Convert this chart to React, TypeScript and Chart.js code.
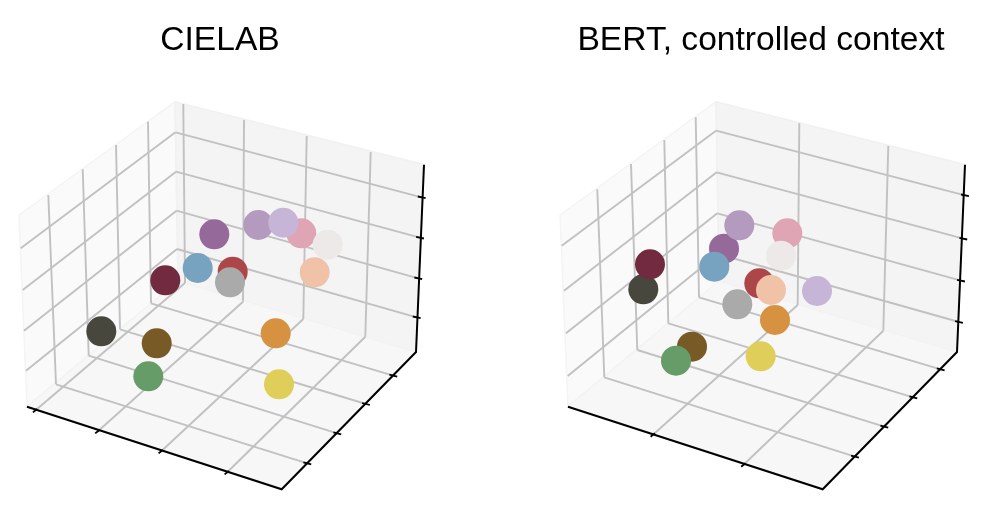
import React, { useEffect, useRef } from "react";
import { Chart, registerables } from "chart.js";

Chart.register(...registerables);

type P = [number, number];
type Seg = [P, P];

const titles = ["CIELAB", "BERT, controlled context"];

const colourNames = ["charcoal", "maroon", "brown", "green", "yellow", "orange", "red", "grey", "peach", "purple", "blue", "mauve", "pink", "lavender", "ivory"];
const colours = ["#47473d", "#722a41", "#775a26", "#669c67", "#dfcf5a", "#d69141", "#ad4649", "#a9aaa9", "#f0c3a8", "#96699b", "#77a3c0", "#b59ac0", "#dfa5b5", "#c6b5d6", "#ece9e8"];

const cielabX = [101.3, 165.3, 156.7, 148.3, 279, 275.7, 232.7, 230, 314.7, 214.3, 197.7, 258.3, 301.3, 283.3, 327.7];
const cielabY = [331.3, 280.3, 343.3, 376.3, 384.3, 333.3, 271.7, 282.3, 272.3, 234.3, 268, 225, 233.3, 222.7, 244.7];
const bertX = [643.3, 650, 692, 676, 760.7, 775, 759.3, 737.3, 771, 724, 714.3, 739.3, 787.3, 817, 781];
const bertY = [289.3, 264.3, 346.7, 360.7, 356.3, 320, 283.3, 304.3, 290, 248.7, 266.7, 225.3, 233.3, 291, 255.7];

// Box corners (left panel); the right panel repeats them one panel step along.
const panelStep = 541;
const leftWall: P[] = [[19, 215], [175, 101.7], [178, 281], [27, 406.7], [19, 215]];
const rightWall: P[] = [[175, 101.7], [424, 164.7], [416, 352], [178, 281], [175, 101.7]];
const floorPane: P[] = [[27, 406.7], [178, 281], [416, 352], [281.7, 489.3], [27, 406.7]];
const spines: P[][] = [[[27, 406.7], [281.7, 489.3], [416, 352], [424, 164.7]]];

// Grid lines, left panel
const cielabLeftTop: P[] = [[48.3, 195], [82.7, 169.3], [116, 145], [148, 121.7]];
const cielabLeftBottom: P[] = [[56, 384.3], [88.7, 355.7], [120, 329.3], [151, 303.3]];
const cielabRightTop: P[] = [[183.3, 104], [244, 120], [306.7, 136], [370.7, 152]];
const cielabRightBottom: P[] = [[185, 283], [243, 301.7], [303.3, 319], [365.3, 336.7]];
const cielabFrontTicks: P[] = [[35, 410.7], [97.3, 431.7], [160.7, 451.7], [226.7, 472.7]];
const cielabSideTicks: P[] = [[307.3, 463.3], [337.3, 433.3], [366, 404], [393.3, 375.7]];
const cielabBackLevels: P[] = [[175.5, 132.3], [176, 171.7], [176.5, 210.7], [177, 249]];
const cielabLeftLevels: P[] = [[20.7, 248.3], [22.7, 290], [24, 330.7], [26, 370.7]];
const cielabRightLevels: P[] = [[421.7, 197.3], [420, 237.7], [418.3, 278.3], [416.7, 317.3]];

// Grid lines, right panel
const bertLeftTop: P[] = [[597.3, 189.3], [631, 164], [664.3, 140], [695.7, 117.3]];
const bertLeftBottom: P[] = [[604.3, 377.3], [637.3, 350], [668.3, 323.3], [699, 297.3]];
const bertRightTop: P[] = [[799.3, 123.3], [888.3, 146]];
const bertRightBottom: P[] = [[797.7, 305], [883.3, 330.7]];
const bertFrontTicks: P[] = [[652.7, 435], [743.3, 465]];
const bertSideTicks: P[] = [[855, 456.7], [884.3, 426.7], [913.3, 397.3], [940.7, 369.3]];
const bertBackLevels: P[] = [[716, 130.7], [716.7, 172.3], [717.3, 213.3], [718, 254]];
const bertLeftLevels: P[] = [[561.7, 245.7], [564, 290.7], [566, 333.3], [567.7, 376]];
const bertRightLevels: P[] = [[965, 195.3], [963.3, 238.7], [961, 280.7], [959, 322]];

const zip = (a: P[], b: P[]): Seg[] => a.map((p, i) => [p, b[i]]);

function tickMarks(at: P[], dx: number, dy: number): Seg[] {
  return at.map(([x, y]) => [[x - dx, y - dy], [x + dx, y + dy]]);
}

function panel(
  xs: number[], ys: number[], shift: number,
  g: { lt: P[]; lb: P[]; rt: P[]; rb: P[]; ft: P[]; st: P[]; bl: P[]; ll: P[]; rl: P[] }
) {
  const sh = (pts: P[]): P[] => pts.map(([x, y]) => [x + shift, y]);
  const xy = (pts: P[]) => pts.map(([x, y]) => ({ x, y }));
  const grid: Seg[] = [
    ...zip(g.lt, g.lb), ...zip(g.rt, g.rb),
    ...zip(g.rb, g.ft), ...zip(g.lb, g.st),
    ...zip(g.bl, g.ll), ...zip(g.bl, g.rl),
  ];
  const ticks: Seg[] = [
    ...tickMarks(g.ft, 2.1, -1.7),
    ...tickMarks(g.st, 3.9, 1),
    ...tickMarks(g.rl, 3.9, 0.8),
  ];
  const line = (pts: P[], color: string, width: number) => ({
    data: xy(pts), showLine: true, pointRadius: 0, borderColor: color, borderWidth: width, clip: false, tension: 0,
  });
  const pane = (pts: P[], fillColor: string, edge: string) => ({
    ...line(sh(pts), edge, 1.5), fill: "shape", backgroundColor: fillColor,
  });
  return [
    {
      label: "colours",
      data: xs.map((x, i) => ({ x, y: ys[i] })),
      pointRadius: 15, pointHoverRadius: 15, pointBorderWidth: 0,
      pointBackgroundColor: colours, clip: false,
    },
    ...spines.map((s) => line(sh(s), "#000000", 2)),
    ...ticks.map((s) => line(s, "#000000", 1.8)),
    ...grid.map((s) => line(s, "#c1c1c1", 1.9)),
    pane(floorPane, "#f7f7f7", "#f3f3f3"),
    pane(rightWall, "#f4f4f4", "#f1f1f1"),
    pane(leftWall, "#fafafa", "#f4f4f4"),
  ];
}

const TITLE_SIZE = 33.6;
const TITLE_PAD_TOP = 21;
const TITLE_BLOCK = TITLE_SIZE * 1.2 + TITLE_PAD_TOP;

function Panel(props: { title: string; left: number; datasets: any[] }) {
  const ref = useRef<HTMLCanvasElement>(null);
  useEffect(() => {
    const chart = new Chart(ref.current!, {
      type: "scatter",
      data: { datasets: props.datasets },
      options: {
        animation: false,
        responsive: false,
        devicePixelRatio: 1,
        events: [],
        layout: { padding: 0, autoPadding: false },
        plugins: {
          legend: { display: false },
          tooltip: { enabled: false },
          title: {
            display: true,
            text: props.title,
            color: "#000000",
            font: { family: "'Liberation Sans'", size: TITLE_SIZE, weight: "normal", lineHeight: 1.2 },
            padding: { top: TITLE_PAD_TOP, bottom: 0 },
          },
        },
        scales: {
          x: { type: "linear", display: false, min: props.left, max: props.left + 440 },
          y: { type: "linear", display: false, reverse: true, min: TITLE_BLOCK, max: 512 },
        },
      },
    } as any);
    return () => chart.destroy();
  }, []);
  return (
    <canvas
      ref={ref}
      width={440}
      height={512}
      style={{ position: "absolute", left: props.left, top: 0, width: 440, height: 512 }}
    />
  );
}

const cielabSets = panel(cielabX, cielabY, 0, {
  lt: cielabLeftTop, lb: cielabLeftBottom, rt: cielabRightTop, rb: cielabRightBottom,
  ft: cielabFrontTicks, st: cielabSideTicks, bl: cielabBackLevels, ll: cielabLeftLevels, rl: cielabRightLevels,
});
const bertSets = panel(bertX, bertY, panelStep, {
  lt: bertLeftTop, lb: bertLeftBottom, rt: bertRightTop, rb: bertRightBottom,
  ft: bertFrontTicks, st: bertSideTicks, bl: bertBackLevels, ll: bertLeftLevels, rl: bertRightLevels,
});

export default function App() {
  return (
    <div style={{ position: "absolute", left: 0, top: 0, width: 992, height: 512, background: "#ffffff", overflow: "hidden" }}>
      <Panel title={titles[0]} left={0} datasets={cielabSets} />
      <Panel title={titles[1]} left={panelStep} datasets={bertSets} />
    </div>
  );
}
